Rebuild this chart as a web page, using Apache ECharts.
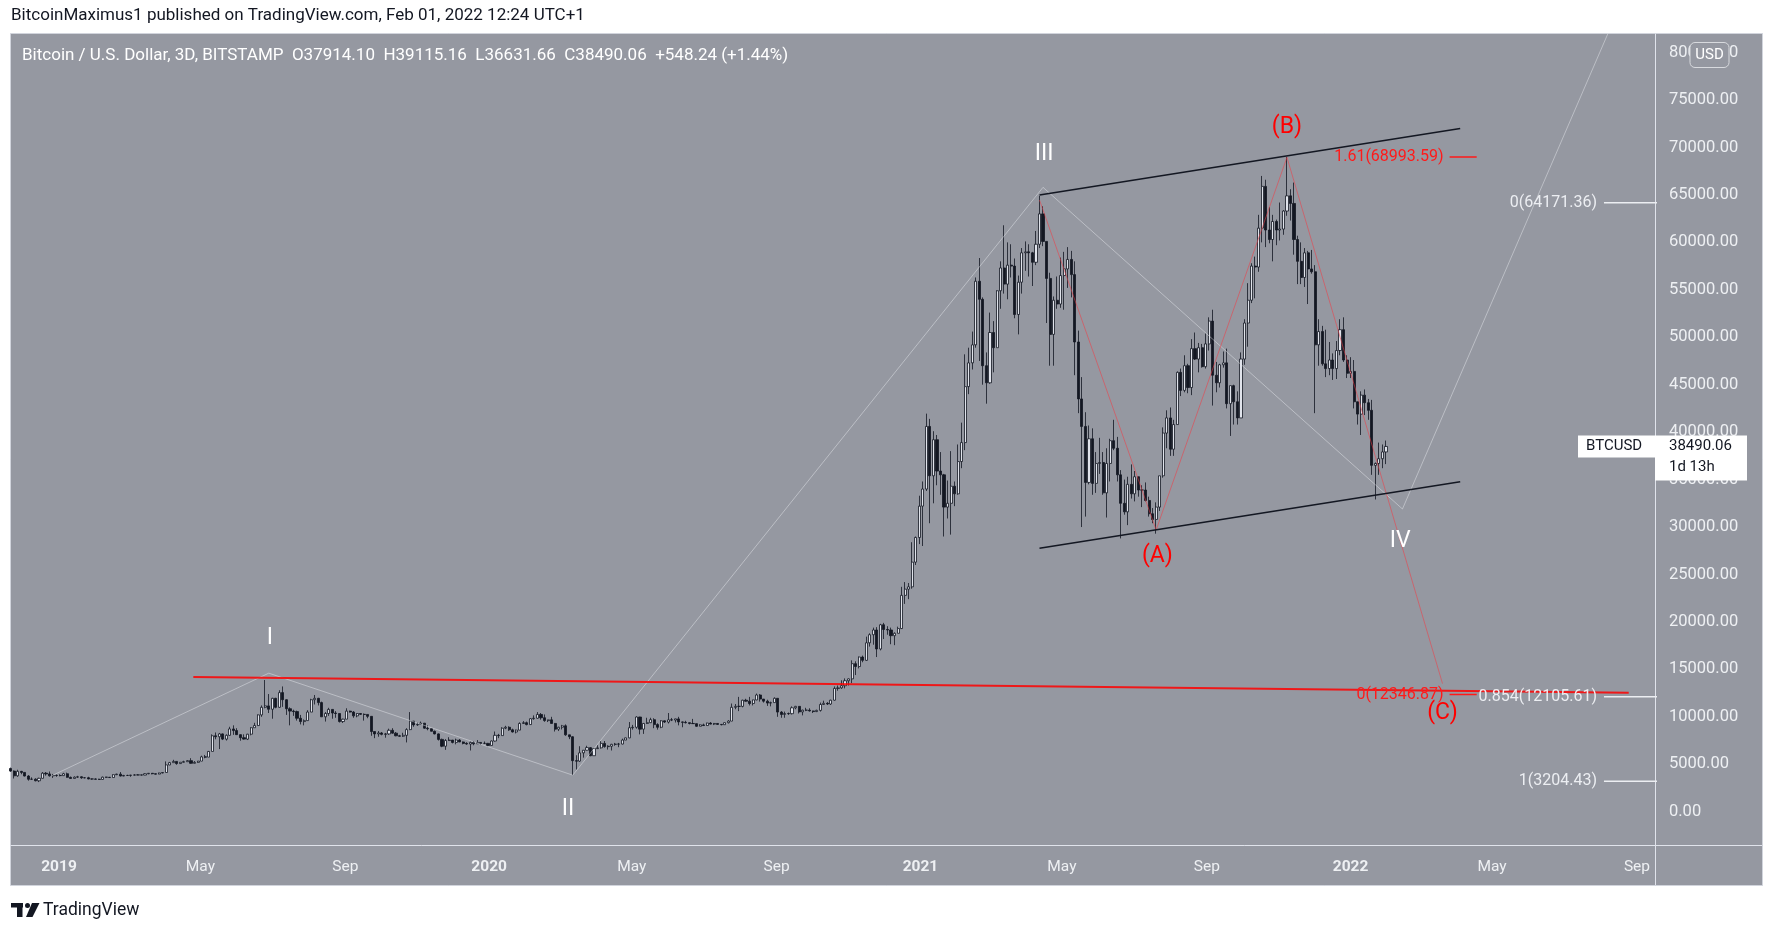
<!DOCTYPE html>
<html><head><meta charset="utf-8">
<script src="https://cdn.jsdelivr.net/npm/echarts@6/dist/echarts.min.js"></script>
<style>html,body{margin:0;padding:0;background:#fff;width:1771px;height:925px;overflow:hidden}#c{width:1771px;height:925px}</style>
</head><body><div id="c"></div><script>
// ---------- DATA ----------
const candleStart = '2018-11-21';   // first 3D bar, bars every 3 days
const firstOpen = 4550;
const closes = [
4280,3780,4250,4140,3760,3420,3430,3260,3520,4060,
3980,3780,3830,3820,3800,4000,3620,3500,3640,3680,
3570,3580,3450,3450,3420,3400,3640,3630,3600,3900,
3960,3760,3820,3820,3860,3870,3880,3860,4000,4050,
4000,3960,4080,4130,4930,5170,5300,5070,5210,5270,
5380,5100,5200,5330,5780,5750,6350,8000,7900,8200,
7650,8050,8720,8550,8120,7800,7650,8170,8850,9080,
10200,11000,11150,10800,11950,11000,12550,11800,10850,10600,
10550,9850,9500,9600,10500,11800,11950,11500,10000,10350,
10780,10400,10350,9500,9750,10600,10500,10100,10350,10260,
10250,10050,8450,8200,8300,8150,8200,8580,8280,8000,
7950,8050,8650,9550,9150,9200,9330,8800,8750,8480,
8200,7620,6900,7500,7550,7300,7550,7350,7200,7130,
7300,7160,7300,7200,7200,6980,7450,8050,8020,8800,
8900,8630,8400,8600,9300,9380,9180,9800,9850,10250,
9900,9600,9680,9300,8700,8900,9050,8100,7900,5380,
5330,6200,6480,6750,5900,6650,6730,7200,6860,6900,
7100,7120,7130,7550,7780,8850,8900,9980,8700,9300,
9380,9700,9180,8900,9580,9450,9680,9660,9780,9460,
9420,9380,9300,9280,9000,9150,9080,9340,9230,9300,
9200,9170,9380,9550,11000,11100,11100,11750,11650,11400,
11780,12300,11870,11650,11450,11500,11950,10500,10250,10350,
10330,10950,11100,10520,10700,10700,10620,10550,10680,11300,
11420,11350,11750,12990,13050,13280,13800,14000,15600,15300,
16300,15950,17800,18650,19150,17150,19700,19200,19150,18550,
18800,19300,22800,23450,23700,26300,28900,32200,34000,40600,
35400,39200,35900,35500,32100,32500,34300,33500,36900,38900,
44800,47300,49200,55900,54000,47000,45200,50500,48900,54900,
57300,55600,57600,57500,52400,55800,58900,59000,58900,57900,
59800,63000,60100,56200,50300,53900,53500,56500,57200,58200,
56600,49500,43500,40600,34700,39300,34600,36700,36800,33600,
36700,39100,38300,35500,32500,31600,34500,33500,35300,33900,
33900,32800,31400,30800,32100,35400,39900,41500,38200,40800,
46300,44400,47000,44700,48800,47700,48900,46900,49300,51700,
46000,45200,47100,47300,43000,44900,43200,41500,47700,51500,
53900,57500,57400,61500,65900,61300,60300,62200,61300,61400,
63300,64900,64100,60300,58000,56300,58900,57200,56900,49200,
50600,47200,46700,47600,46700,48600,50800,47600,46200,46400,
43200,41900,43900,43100,42300,36500,36700,37200,37914.1,38490.06];
const lows = [
4200,3500,3680,3950,3720,3270,3360,3200,3122,3510,
3800,3700,3560,3680,3730,3780,3580,3480,3500,3560,
3470,3520,3420,3380,3400,3370,3380,3580,3560,3600,
3860,3720,3740,3780,3680,3820,3850,3820,3850,3950,
3940,3930,3950,4050,4130,4900,5150,4950,5040,5180,
5250,5050,5080,5150,5320,5630,5750,6350,7630,6600,
7550,7500,8000,8100,8100,7480,7600,7550,8050,8850,
9050,10000,10900,10400,9800,10900,10950,11050,10200,9100,
10100,9600,9200,9100,9600,10500,11300,11200,10000,9500,
10100,9800,9900,9400,9350,9750,10450,9900,9950,10200,
9600,9850,8000,7750,7900,8050,7800,8100,8230,7950,
7900,7880,7300,8600,8950,9050,9150,8750,8580,8460,
8150,7500,6800,6520,7450,7200,7100,7330,7100,7050,
6450,7000,7150,7060,7150,6880,6980,7400,7750,8000,
8700,8520,8350,8250,8600,9250,9100,9150,9700,9800,
9700,9480,9450,9300,8450,8500,8670,8000,7650,3850,
4450,5250,5700,6450,5850,5900,6600,6650,6750,6550,
6450,6950,6800,7100,7550,7750,8650,8750,8150,8200,
9250,9350,8800,8650,8800,9350,9300,9550,9400,9100,
8900,9300,9200,9250,8950,9000,9050,9050,9200,9130,
9150,9100,9150,9300,9550,10800,10600,11000,11600,11200,
11200,11750,11600,11500,11150,11100,11500,10000,9900,9900,
10200,10250,10800,10350,10150,10600,10550,10400,10500,10550,
11250,11250,11250,11700,12750,12950,13000,13300,13550,14400,
15100,15750,15900,17400,17600,16300,17000,18200,18650,17650,
17550,18800,19250,21900,22400,23500,26000,28200,28000,33800,
30400,32500,34400,33400,29000,30900,29200,32200,33400,36200,
38100,44000,46600,48900,47500,45000,43000,45100,46300,48900,
53000,54600,54000,56300,52000,50300,54600,57000,56400,55400,
57600,59400,59600,51500,47000,47000,53000,53100,52900,55200,
54200,46000,42000,30000,31100,34500,33400,33600,35600,33400,
31000,34800,38100,34800,28800,31300,30200,33000,32700,33200,
32100,32700,31100,30400,29300,31700,35200,38300,37500,37500,
40800,43800,44200,44100,43900,47600,46300,46800,46700,48600,
42800,44200,44700,46800,42500,39600,40800,40800,41500,47100,
49000,53600,54100,56900,60000,59500,59900,58000,59700,60200,
60800,62800,62300,58700,55600,55600,55300,53500,56700,42000,
47000,47000,45800,46000,45500,45600,48100,47400,45700,45700,
42500,40800,39700,41800,41300,35500,32900,35500,36200,36631.66];
const highs = [
4650,4350,4420,4300,4150,3850,3620,3520,3580,4180,
4180,4240,3980,3920,3950,4100,4120,3700,3720,3780,
3720,3620,3680,3480,3510,3470,3700,3680,3660,3940,
4000,4180,3880,3890,3880,3940,3950,3900,4060,4060,
4080,4020,4110,4140,5300,5250,5470,5320,5220,5370,
5430,5640,5340,5350,5900,5980,6400,8150,8350,8300,
8250,8150,8950,9100,8800,8150,8150,8200,8900,9370,
10250,11200,13880,12400,12000,12000,12800,13200,11850,11000,
10750,10650,10200,9720,10700,11900,12300,12000,11600,10500,
10950,10800,10600,10350,9800,10900,10650,10600,10400,10400,
10350,10250,10050,8450,8500,8400,8300,8750,8800,8400,
8100,8320,8800,10500,9550,9400,9500,9350,9100,8800,
8550,8250,7700,7650,7850,7550,7700,7650,7400,7320,
7400,7450,7550,7300,7400,7250,7500,8450,8200,8900,
9050,9000,8750,8650,9420,9550,9500,9850,10150,10500,
10400,10250,9700,10000,9350,8950,9150,9200,8100,7950,
5950,6900,6500,6950,6800,6700,7000,7450,7450,7000,
7150,7250,7250,7700,7800,9450,9150,10050,10000,9350,
9900,9900,9850,9320,9650,9600,10400,9880,9800,10000,
9500,9580,9400,9780,9300,9220,9280,9380,9440,9350,
9330,9220,9400,9650,11400,11350,12100,11800,11900,12100,
11800,12450,12400,11870,11800,11600,12050,11950,10600,10550,
10450,11100,11150,11100,10750,10950,10900,10650,10750,11500,
11700,11550,11800,13200,13300,13850,14050,14050,15950,15850,
16350,16450,18450,18800,19400,19450,19800,19900,19550,19400,
18900,19500,23700,24200,24100,28400,29000,33300,34800,41950,
41400,40100,39700,37900,35600,34900,38000,34800,38700,41000,
48200,48900,50600,56300,58350,54200,48400,52600,51700,54950,
58000,61800,60000,59800,58300,56500,59400,60100,59800,59000,
61200,64900,63800,60100,56800,54300,56400,58400,59000,59500,
59100,58000,50700,45800,42100,40700,40400,37900,39400,37900,
38300,39300,41300,39500,36000,35000,35300,36600,35900,35300,
34400,34700,33200,32000,32600,35400,40500,42300,42600,41300,
46400,46700,48100,47200,49800,50500,49400,49300,50400,52100,
52900,47400,47200,48500,48800,44900,45000,44300,48400,51900,
55700,57800,58500,62900,67000,66600,63700,62900,62400,64200,
63400,69000,65600,66300,60700,60000,59400,59100,59200,57600,
51900,51200,50800,49500,48300,49600,51900,52100,48100,47900,
47600,43200,44300,44500,43500,43400,36800,38900,38700,39115.16];

const priceTicks = [0,5000,10000,15000,20000,25000,30000,35000,40000,45000,50000,55000,60000,65000,70000,75000,80000];
const timeTicks = ['2019-01-01','2019-05-01','2019-09-01','2020-01-01','2020-05-01','2020-09-01','2021-01-01','2021-05-01','2021-09-01','2022-01-01','2022-05-01','2022-09-01'];
const timeTickLabels = ['2019','May','Sep','2020','May','Sep','2021','May','Sep','2022','May','Sep'];

// drawings (date, price)
const waveLine = [['2018-12-26',3800],['2019-06-28',14600],['2020-03-12',3850],['2021-04-15',65800],['2022-02-14',31900],['2022-08-23',86500]];
const abcLine = [['2021-04-12',64460],['2021-07-20',29690],['2021-11-08',68960],['2022-03-20',13500]];
const channelTop = [['2021-04-12',64990],['2022-04-04',72000]];
const channelBottom = [['2021-04-12',27760],['2022-04-04',34770]];
const resistance = [['2019-04-25',14195],['2022-08-25',12541]];
const fibWhiteLevels = [['0',64171.36],['0.854',12105.61],['1',3204.43]];
const fibWhiteSpan = ['2022-08-04','2022-10-30'];
const fibRedLevels = [['1.61',68993.59],['0',12346.87]];
const fibRedSpan = ['2022-03-26','2022-04-18'];
const waveLabels = [['I','2019-06-29',18290],['II','2020-03-08',285],['III','2021-04-16',69300],['IV','2022-02-12',28530]];
const abcLabels = [['(A)','2021-07-21',26870],['(B)','2021-11-08',72090],['(C)','2022-03-20',10400]];
const lastPrice = 38490.06;

// ---------- BUILD ----------
const dayOf = s => (Date.UTC(+s.slice(0,4), +s.slice(5,7)-1, +s.slice(8,10)) - Date.UTC(2019,0,1)) / 864e5;
const d0 = dayOf(candleStart);
const candles = closes.map((c,i) => {
  const o = i === 0 ? firstOpen : closes[i-1];
  return [d0 + 3*i, o, c, Math.min(lows[i], o, c), Math.max(highs[i], o, c)];
});
const pts = arr => arr.map(p => [dayOf(p[0]), p[1]]);
const tickDays = timeTicks.map(dayOf);
const FONT = 'Roboto';
const AX = '#eef0f3';

const lineSeries = (data, color, width, z) => ({
  type:'line', data, showSymbol:false, symbol:'none', silent:true, animation:false, z: z||3,
  lineStyle:{color, width}, clip:true
});

const series = [
  {type:'candlestick', data:candles, encode:{x:0,y:[1,2,3,4]}, barWidth:2.6, animation:false, silent:true,
   itemStyle:{color:'#e0e3eb', color0:'#131722', borderColor:'#131722', borderColor0:'#131722', borderWidth:0.8}},
  lineSeries(pts(waveLine), 'rgba(235,237,242,0.45)', 1),
  lineSeries(pts(abcLine), 'rgba(240,60,70,0.55)', 1),
  lineSeries(pts(channelTop), '#131722', 1.5),
  lineSeries(pts(channelBottom), '#131722', 1.5),
  lineSeries(pts(resistance), 'rgba(255,0,0,0.85)', 2, 4)
];
fibWhiteLevels.forEach(l => series.push(lineSeries([[dayOf(fibWhiteSpan[0]),l[1]],[dayOf(fibWhiteSpan[1]),l[1]]], '#eceef2', 1.5)));
fibRedLevels.forEach(l => series.push(lineSeries([[dayOf(fibRedSpan[0]),l[1]],[dayOf(fibRedSpan[1]),l[1]]], '#ff1a1a', 1.5)));

const chart = echarts.init(document.getElementById('c'), null, {renderer:'canvas'});
chart.setOption({
  animation:false,
  grid:{left:11, right:116, top:34, bottom:80, containLabel:false},
  xAxis:{type:'value', min:-40.73, max:1354.3,
    axisLine:{show:true, onZero:false, lineStyle:{color:'#e0e3eb', width:1}},
    axisTick:{show:false}, splitLine:{show:false},
    axisLabel:{customValues:tickDays, margin:14,
      formatter:v => { const t = timeTickLabels[tickDays.indexOf(Math.round(v))]; return /^\d{4}$/.test(t) ? '{y|'+t+'}' : '{m|'+t+'}'; },
      rich:{y:{fontWeight:'bold', fontSize:15.5, color:AX, fontFamily:FONT}, m:{fontSize:15.5, color:AX, fontFamily:FONT}}}},
  yAxis:{type:'value', position:'right', min:-3509, max:81958, scale:false,
    axisLine:{show:true, onZero:false, lineStyle:{color:'#e0e3eb', width:1}},
    axisTick:{show:false}, splitLine:{show:false},
    axisLabel:{customValues:priceTicks, margin:14, formatter:v => v.toFixed(2), color:AX, fontSize:16.5, fontFamily:FONT}},
  series
});

const px = (d, p) => chart.convertToPixel({gridIndex:0}, [typeof d === 'string' ? dayOf(d) : d, p]);
const g = [];
g.push({type:'rect', z:-100, silent:true, shape:{x:10.5, y:33.5, width:1752, height:852}, style:{fill:'#9598a1', stroke:'#d1d4dc', lineWidth:1}});
g.push({type:'line', z:10, shape:{x1:1655.5, y1:845, x2:1655.5, y2:885}, style:{stroke:'#e0e3eb', lineWidth:1}});
g.push({type:'line', z:10, shape:{x1:1655, y1:845.5, x2:1762, y2:845.5}, style:{stroke:'#e0e3eb', lineWidth:1}});
g.push({type:'text', z:50, style:{text:'BitcoinMaximus1 published on TradingView.com, Feb 01, 2022 12:24 UTC+1', x:11, y:16, verticalAlign:'middle', fill:'#131722', font:'17px '+FONT}});
g.push({type:'text', z:50, style:{text:'Bitcoin / U.S. Dollar, 3D, BITSTAMP  O37914.10  H39115.16  L36631.66  C38490.06  +548.24 (+1.44%)', x:22, y:56, verticalAlign:'middle', fill:'#ffffff', font:'17px '+FONT}});
// logo
g.push({type:'rect', z:50, shape:{x:11, y:903, width:12, height:4.5}, style:{fill:'#131722'}});
g.push({type:'rect', z:50, shape:{x:17, y:903, width:5.5, height:14}, style:{fill:'#131722'}});
g.push({type:'circle', z:50, shape:{cx:27.5, cy:905.5, r:2.5}, style:{fill:'#131722'}});
g.push({type:'polygon', z:50, shape:{points:[[32,903],[39.5,903],[32.5,917],[26,917]]}, style:{fill:'#131722'}});
g.push({type:'text', z:50, style:{text:'TradingView', x:43, y:910.5, verticalAlign:'middle', fill:'#131722', font:'17.5px '+FONT}});
// USD box
g.push({type:'rect', z:60, shape:{x:1690, y:42.5, width:39, height:25, r:5}, style:{fill:'#9598a1', stroke:'#d8dade', lineWidth:1}});
g.push({type:'text', z:61, style:{text:'USD', x:1709.5, y:55.5, align:'center', verticalAlign:'middle', fill:'#ffffff', font:'15px '+FONT}});
// wave labels
waveLabels.forEach(l => { const p = px(l[1], l[2]); g.push({type:'text', z:40, style:{text:l[0], x:p[0], y:p[1], align:'center', verticalAlign:'middle', fill:'#ffffff', font:'23px '+FONT}}); });
abcLabels.forEach(l => { const p = px(l[1], l[2]); g.push({type:'text', z:40, style:{text:l[0], x:p[0], y:p[1], align:'center', verticalAlign:'middle', fill:'#ff0000', font:'23px '+FONT}}); });
// fib labels
fibWhiteLevels.forEach(l => { const p = px(fibWhiteSpan[0], l[1]); g.push({type:'text', z:40, style:{text:l[0]+'('+l[1].toFixed(2)+')', x:p[0]-7, y:p[1], align:'right', verticalAlign:'middle', fill:'#eceef2', font:'16px '+FONT}}); });
fibRedLevels.forEach(l => { const p = px(fibRedSpan[0], l[1]); g.push({type:'text', z:40, style:{text:l[0]+'('+l[1].toFixed(2)+')', x:p[0]-6, y:p[1], align:'right', verticalAlign:'middle', fill:'#ff1a1a', font:'16px '+FONT}}); });
// last price label
const ly = px(0, lastPrice)[1];
g.push({type:'rect', z:60, shape:{x:1578, y:ly-11, width:77, height:22}, style:{fill:'#ffffff'}});
g.push({type:'text', z:61, style:{text:'BTCUSD', x:1586, y:ly, verticalAlign:'middle', fill:'#131722', font:'15px '+FONT}});
g.push({type:'rect', z:60, shape:{x:1655, y:ly-11, width:92, height:45}, style:{fill:'#ffffff'}});
g.push({type:'text', z:61, style:{text:lastPrice.toFixed(2), x:1669, y:ly, verticalAlign:'middle', fill:'#131722', font:'15px '+FONT}});
g.push({type:'text', z:61, style:{text:'1d 13h', x:1669, y:ly+21, verticalAlign:'middle', fill:'#131722', font:'15px '+FONT}});
chart.setOption({graphic:g});
</script></body></html>
